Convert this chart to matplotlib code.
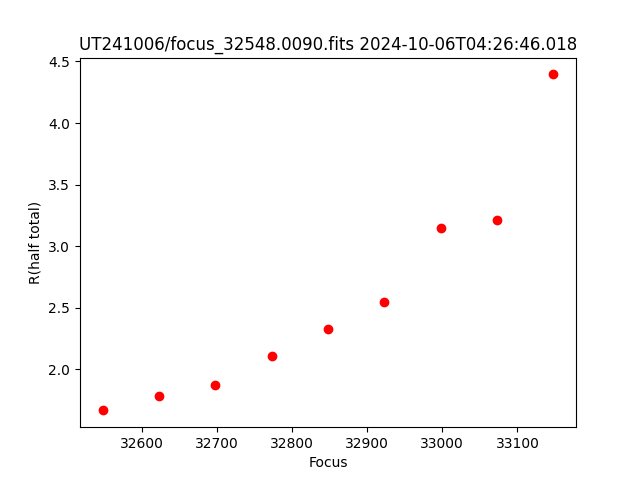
import matplotlib
matplotlib.use("Agg")
import matplotlib.pyplot as plt

focus = [32548, 32623, 32698, 32773, 32848, 32923, 32998, 33073, 33148]
r_half = [1.665, 1.78, 1.87, 2.11, 2.325, 2.545, 3.145, 3.21, 4.395]

fig, ax = plt.subplots(figsize=(6.4, 4.8), dpi=100)
ax.plot(focus, r_half, 'o', color='red')
ax.set_xlabel("Focus")
ax.set_ylabel("R(half total)")
ax.set_title("UT241006/focus_32548.0090.fits 2024-10-06T04:26:46.018")
fig.savefig("out.png")
